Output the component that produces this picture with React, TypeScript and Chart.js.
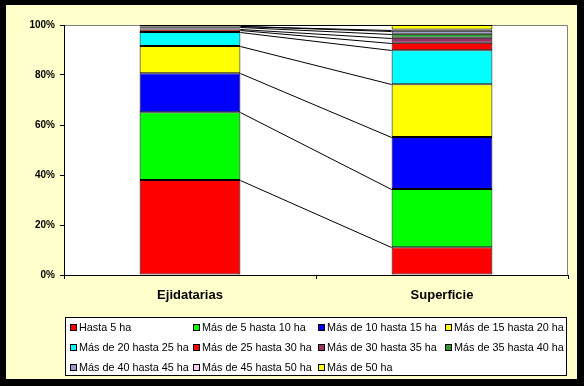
import React, { useEffect, useRef } from "react";
import { Chart, registerables } from "chart.js";

Chart.register(...registerables);

const categories = ["Ejidatarias", "Superficie"];
const seriesLabels = [
  "Hasta 5 ha",
  "Más de 5 hasta 10 ha",
  "Más de 10 hasta 15 ha",
  "Más de 15 hasta 20 ha",
  "Más de 20 hasta 25 ha",
  "Más de 25 hasta 30 ha",
  "Más de 30 hasta 35 ha",
  "Más de 35 hasta 40 ha",
  "Más de 40 hasta 45 ha",
  "Más de 45 hasta 50 ha",
  "Más de 50 ha",
];
const ejidatarias = [38, 27.1, 15.6, 10.9, 5.6, 1.0, 0.4, 0.5, 0.3, 0.2, 0.4];
const superficie = [11.1, 23.3, 20.8, 21.1, 13.6, 3.0, 2.0, 1.6, 1.2, 0.5, 1.8];
const yTickValues = [0, 20, 40, 60, 80, 100];

const seriesColors = [
  "#FF0000",
  "#00FF00",
  "#0000FF",
  "#FFFF00",
  "#00FFFF",
  "#FF0000",
  "#993366",
  "#339933",
  "#9999CC",
  "#FFCCFF",
  "#FFFF00",
];

const FONT = "Arial, 'Liberation Sans', sans-serif";

const plotBg = {
  id: "plotBg",
  beforeDraw(chart: any) {
    const { ctx, chartArea: a } = chart;
    ctx.save();
    ctx.fillStyle = "#FFFFFF";
    ctx.fillRect(a.left, a.top, a.right - a.left, a.bottom - a.top);
    ctx.strokeStyle = "#808080";
    ctx.lineWidth = 1;
    ctx.beginPath();
    ctx.moveTo(a.left, a.top + 0.5);
    ctx.lineTo(a.right - 0.5, a.top + 0.5);
    ctx.lineTo(a.right - 0.5, a.bottom);
    ctx.stroke();
    ctx.restore();
  },
};

const seriesLines = {
  id: "seriesLines",
  afterDatasetsDraw(chart: any) {
    const { ctx } = chart;
    ctx.save();
    ctx.strokeStyle = "#000000";
    ctx.lineWidth = 1;
    chart.data.datasets.forEach((_: any, i: number) => {
      const meta = chart.getDatasetMeta(i);
      const b0 = meta.data[0] as any;
      const b1 = meta.data[1] as any;
      if (!b0 || !b1) return;
      ctx.beginPath();
      ctx.moveTo(b0.x + b0.width / 2, Math.round(b0.y) + 0.5);
      ctx.lineTo(b1.x - b1.width / 2, Math.round(b1.y) + 0.5);
      ctx.stroke();
    });
    ctx.restore();
  },
};

const legendBox = {
  id: "legendBox",
  afterDraw(chart: any) {
    const { ctx } = chart;
    const boxL = 59,
      boxT = 312,
      boxR = 561,
      boxB = 371;
    ctx.save();
    ctx.fillStyle = "#FFFFFF";
    ctx.fillRect(boxL, boxT, boxR - boxL, boxB - boxT);
    ctx.strokeStyle = "#000000";
    ctx.lineWidth = 1;
    ctx.strokeRect(boxL + 0.5, boxT + 0.5, boxR - boxL - 1, boxB - boxT - 1);
    const colX = [64, 187, 312, 439];
    const rowY = [322, 342, 362];
    ctx.font = `10.8px ${FONT}`;
    ctx.textBaseline = "middle";
    ctx.textAlign = "left";
    chart.data.datasets.forEach((ds: any, i: number) => {
      const x = colX[i % 4];
      const y = rowY[Math.floor(i / 4)];
      ctx.fillStyle = ds.backgroundColor;
      ctx.fillRect(x, y - 3, 7, 7);
      ctx.strokeStyle = "#000000";
      ctx.strokeRect(x + 0.5, y - 2.5, 6, 6);
      ctx.fillStyle = "#000000";
      ctx.fillText(ds.label, x + 9, y + 1);
    });
    ctx.restore();
  },
};

export default function App() {
  const canvasRef = useRef<HTMLCanvasElement | null>(null);

  useEffect(() => {
    document.body.style.margin = "0";
    const canvas = canvasRef.current;
    if (!canvas) return;
    const datasets = seriesLabels.map((label, i) => ({
      label,
      data: [ejidatarias[i], superficie[i]],
      backgroundColor: seriesColors[i],
      borderColor: "#000000",
      borderWidth: 1,
      borderSkipped: false as any,
      barPercentage: 0.4,
      categoryPercentage: 1,
    }));
    const chart = new Chart(canvas, {
      type: "bar",
      data: { labels: categories, datasets },
      options: {
        responsive: false,
        animation: false,
        devicePixelRatio: 1,
        layout: { padding: { left: 0, top: 20, right: 9, bottom: 64 } },
        plugins: {
          legend: { display: false },
          tooltip: { enabled: false },
        },
        scales: {
          x: {
            stacked: true,
            grid: {
              display: true,
              drawOnChartArea: false,
              drawTicks: true,
              tickLength: 4,
              color: "#000000",
              offset: true,
            },
            border: { display: true, color: "#000000" },
            ticks: {
              font: { family: FONT, size: 13, weight: "bold" },
              color: "#000000",
              padding: 9,
              maxRotation: 0,
            },
            afterFit: (s: any) => {
              s.height = 40;
            },
          },
          y: {
            stacked: true,
            min: 0,
            max: 100,
            afterBuildTicks: (s: any) => {
              s.ticks = yTickValues.map((v) => ({ value: v }));
            },
            ticks: {
              callback: (v: any) => `${v}%`,
              font: { family: FONT, size: 10, weight: "bold" },
              color: "#000000",
              padding: 5,
            },
            grid: {
              drawOnChartArea: false,
              drawTicks: true,
              tickLength: 4,
              color: "#000000",
            },
            border: { display: true, color: "#000000" },
            afterFit: (s: any) => {
              s.width = 58;
            },
          },
        },
      },
      plugins: [plotBg, seriesLines, legendBox],
    });
    return () => chart.destroy();
  }, []);

  return (
    <div
      style={{
        position: "absolute",
        left: 0,
        top: 0,
        width: 584,
        height: 386,
        background: "#000000",
      }}
    >
      <div
        style={{
          position: "absolute",
          left: 6,
          top: 5,
          width: 571,
          height: 374,
          background: "#FFFFCC",
        }}
      >
        <canvas ref={canvasRef} width={571} height={374} style={{ display: "block" }} />
      </div>
    </div>
  );
}
